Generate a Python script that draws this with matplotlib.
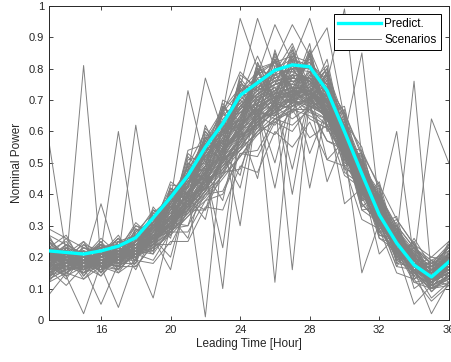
import matplotlib
matplotlib.use("Agg")
import matplotlib.pyplot as plt
import numpy as np

plt.rcParams['font.family'] = ['Liberation Sans', 'DejaVu Sans']

hours = np.arange(13, 37)

predict = [0.22, 0.215, 0.21, 0.22, 0.235, 0.262, 0.325, 0.39, 0.46, 0.55, 0.625, 0.715,
           0.755, 0.795, 0.812, 0.806, 0.73, 0.60, 0.465, 0.335, 0.245, 0.175, 0.137, 0.185]

# scenario values, one row per scenario (hours 13..36)
scenarios = [
    [.20, .18, .17, .19, .20, .22, .25, .30, .36, .42, .50, .57, .63, .68, .71, .72, .68, .58, .46, .35, .26, .19, .14, .17],
    [.17, .16, .18, .18, .19, .21, .24, .28, .33, .38, .45, .52, .59, .64, .66, .70, .64, .55, .43, .33, .24, .17, .13, .16],
    [.23, .21, .20, .21, .22, .24, .28, .33, .40, .46, .54, .61, .67, .72, .74, .73, .69, .60, .48, .37, .28, .20, .16, .19],
    [.14, .17, .15, .18, .16, .22, .21, .29, .30, .40, .41, .53, .52, .63, .60, .68, .57, .54, .37, .31, .19, .16, .09, .14],
    [.19, .20, .18, .16, .20, .23, .26, .31, .35, .43, .50, .58, .65, .62, .70, .73, .67, .56, .44, .33, .24, .19, .15, .18],
    [.22, .17, .21, .19, .17, .21, .25, .29, .37, .41, .51, .54, .60, .68, .64, .68, .66, .55, .46, .36, .27, .17, .14, .21],
    [.16, .19, .15, .21, .20, .20, .24, .28, .34, .39, .46, .57, .62, .66, .71, .64, .61, .52, .41, .31, .22, .15, .11, .14],
    [.20, .22, .19, .18, .21, .22, .27, .32, .38, .45, .53, .60, .66, .70, .70, .72, .70, .60, .47, .37, .25, .20, .16, .17],
    [.18, .14, .17, .20, .19, .24, .26, .30, .36, .44, .48, .56, .67, .64, .67, .67, .62, .55, .42, .34, .24, .18, .13, .20],
    [.23, .20, .22, .17, .22, .21, .25, .31, .35, .41, .51, .61, .62, .70, .73, .69, .65, .58, .45, .32, .26, .21, .17, .16],
    [.16, .17, .21, .18, .17, .17, .24, .24, .35, .35, .47, .48, .62, .59, .67, .58, .62, .46, .42, .28, .22, .12, .10, .11],
    [.21, .23, .18, .22, .21, .25, .29, .35, .42, .49, .57, .64, .70, .73, .78, .77, .72, .62, .50, .39, .29, .22, .18, .23],
    [.19, .17, .20, .15, .20, .22, .26, .29, .37, .42, .49, .54, .64, .66, .69, .73, .66, .54, .43, .35, .23, .17, .12, .15],
    [.17, .21, .16, .19, .18, .23, .24, .31, .34, .41, .52, .59, .61, .67, .71, .66, .64, .57, .44, .33, .27, .19, .15, .19],
    [.20, .16, .19, .21, .22, .20, .26, .28, .38, .45, .47, .57, .65, .69, .67, .71, .69, .57, .43, .36, .25, .16, .13, .17],
    [.25, .19, .17, .18, .19, .22, .28, .34, .40, .47, .55, .58, .63, .68, .73, .68, .65, .56, .46, .34, .22, .18, .14, .16],
    [.13, .16, .17, .17, .16, .21, .19, .28, .28, .38, .40, .53, .54, .64, .62, .67, .57, .55, .35, .31, .17, .16, .07, .12],
    [.18, .20, .21, .23, .24, .26, .30, .36, .43, .50, .58, .65, .71, .75, .77, .76, .71, .62, .49, .40, .30, .23, .19, .22],
    [.21, .18, .16, .20, .21, .21, .25, .30, .36, .42, .51, .55, .62, .66, .69, .70, .66, .55, .44, .33, .25, .19, .14, .18],
    [.19, .19, .20, .17, .19, .23, .26, .31, .37, .44, .49, .58, .63, .67, .70, .68, .67, .57, .44, .35, .24, .18, .13, .17],
    [.27, .24, .21, .23, .25, .27, .31, .38, .45, .52, .60, .67, .73, .77, .80, .80, .75, .66, .53, .43, .32, .24, .20, .25],
    [.12, .15, .13, .17, .15, .19, .18, .25, .25, .36, .35, .49, .47, .60, .55, .63, .51, .49, .32, .29, .15, .13, .06, .11],
    [.23, .19, .20, .24, .22, .25, .28, .36, .41, .46, .55, .59, .65, .71, .71, .75, .71, .61, .49, .38, .29, .21, .17, .21],
    [.16, .17, .19, .17, .20, .21, .23, .28, .34, .41, .47, .54, .60, .65, .68, .70, .64, .53, .42, .32, .22, .16, .12, .15],
    [.20, .22, .17, .19, .19, .24, .27, .32, .38, .44, .53, .61, .68, .71, .71, .69, .68, .58, .44, .34, .23, .17, .15, .20],
    [.18, .15, .19, .22, .21, .22, .25, .29, .35, .45, .51, .55, .63, .69, .73, .73, .67, .56, .47, .36, .26, .19, .14, .16],
    [.29, .26, .23, .21, .24, .24, .29, .35, .39, .47, .53, .61, .64, .68, .68, .72, .69, .60, .49, .39, .30, .23, .18, .24],
    [.14, .16, .17, .16, .19, .20, .23, .27, .33, .40, .46, .52, .60, .63, .67, .65, .62, .53, .41, .31, .23, .15, .11, .14],
    [.21, .19, .22, .18, .20, .23, .24, .33, .38, .43, .50, .58, .64, .66, .73, .72, .66, .55, .45, .33, .24, .20, .16, .18],
    [.19, .21, .18, .20, .23, .21, .26, .30, .37, .44, .49, .56, .61, .69, .70, .68, .65, .57, .46, .35, .25, .18, .13, .19],
    [.17, .18, .21, .19, .18, .24, .25, .31, .39, .42, .52, .57, .66, .65, .71, .74, .68, .56, .43, .32, .24, .17, .12, .16],
    [.22, .20, .17, .21, .22, .22, .27, .32, .36, .45, .50, .59, .62, .70, .72, .70, .69, .59, .45, .36, .27, .19, .15, .17],
    [.15, .17, .16, .18, .17, .21, .22, .28, .35, .40, .48, .55, .59, .64, .68, .71, .64, .53, .42, .32, .22, .15, .10, .13],
    [.20, .18, .19, .19, .21, .23, .25, .33, .40, .46, .53, .62, .67, .71, .74, .74, .70, .60, .48, .37, .26, .20, .16, .21],
    [.18, .21, .20, .17, .19, .22, .24, .29, .36, .42, .48, .56, .63, .67, .70, .67, .64, .54, .43, .33, .23, .17, .13, .15],
    [.23, .17, .19, .21, .20, .25, .26, .31, .37, .43, .51, .57, .65, .67, .72, .72, .67, .58, .46, .34, .25, .19, .14, .18],
    [.20, .18, .19, .21, .20, .23, .27, .32, .38, .45, .52, .42, .66, .70, .48, .72, .66, .57, .45, .35, .25, .18, .14, .17],
    [.19, .20, .18, .19, .22, .24, .26, .31, .39, .32, .55, .61, .45, .71, .73, .70, .44, .58, .44, .34, .26, .19, .15, .18],
    [.21, .19, .20, .20, .21, .22, .28, .33, .26, .46, .54, .60, .67, .50, .72, .53, .67, .56, .46, .36, .24, .17, .13, .16],
    [.18, .17, .19, .18, .19, .23, .26, .20, .40, .47, .38, .62, .68, .71, .40, .71, .65, .55, .44, .21, .27, .20, .16, .19],
    [.20, .21, .17, .20, .18, .22, .25, .30, .37, .44, .53, .46, .69, .72, .74, .42, .68, .58, .45, .34, .25, .18, .14, .17],
    [.22, .18, .20, .19, .21, .24, .27, .31, .38, .35, .52, .60, .66, .42, .70, .73, .51, .57, .35, .36, .26, .19, .15, .18],
    [.20, .24, .18, .21, .26, .22, .35, .32, .50, .47, .68, .62, .82, .70, .86, .72, .80, .55, .52, .30, .30, .15, .19, .14],
    [.17, .20, .22, .18, .20, .29, .26, .42, .39, .58, .53, .75, .68, .85, .72, .86, .65, .66, .40, .42, .22, .24, .12, .20],
    [.22, .17, .21, .24, .19, .25, .33, .30, .47, .45, .66, .60, .79, .69, .83, .70, .78, .52, .50, .31, .29, .17, .17, .15],
    [.19, .22, .16, .20, .24, .21, .29, .39, .36, .55, .51, .73, .65, .83, .70, .84, .62, .64, .38, .40, .21, .23, .11, .21],
    [.24, .15, .22, .17, .25, .21, .34, .31, .50, .44, .68, .61, .80, .68, .84, .70, .78, .51, .53, .29, .31, .14, .19, .13],
    [.14, .22, .16, .24, .18, .29, .25, .41, .38, .60, .53, .74, .66, .83, .71, .85, .63, .67, .39, .43, .21, .25, .11, .22],
    [.21, .18, .25, .15, .22, .19, .36, .29, .46, .57, .50, .72, .64, .78, .86, .68, .79, .49, .51, .38, .20, .24, .12, .16],
    [.17, .24, .14, .21, .27, .18, .31, .42, .35, .49, .66, .58, .79, .70, .73, .88, .60, .65, .41, .30, .33, .13, .18, .21],
    [.26, .19, .18, .25, .16, .27, .23, .38, .49, .41, .62, .70, .63, .86, .69, .78, .75, .53, .48, .39, .22, .20, .10, .17],
    [.19, .13, .21, .18, .23, .30, .27, .33, .43, .61, .55, .65, .77, .67, .80, .72, .83, .57, .36, .41, .28, .15, .16, .24],
    [.12, .20, .19, .14, .20, .22, .32, .27, .41, .47, .58, .77, .70, .74, .66, .81, .68, .61, .50, .27, .25, .22, .13, .11],
    [.23, .27, .17, .22, .19, .25, .29, .44, .40, .53, .69, .60, .75, .82, .74, .67, .72, .47, .43, .37, .18, .17, .20, .19],
    [.18, .16, .23, .20, .26, .17, .24, .35, .52, .46, .57, .71, .84, .72, .81, .76, .64, .63, .55, .33, .29, .10, .14, .20],
    [.25, .21, .13, .19, .17, .28, .34, .30, .39, .56, .63, .66, .69, .79, .88, .74, .80, .56, .38, .44, .24, .21, .09, .15],
    [.15, .18, .20, .26, .21, .20, .28, .40, .47, .42, .61, .75, .73, .65, .78, .83, .70, .50, .47, .32, .17, .26, .17, .23],
    [.22, .25, .18, .16, .24, .26, .22, .37, .45, .58, .52, .63, .80, .77, .70, .79, .66, .68, .44, .36, .27, .16, .15, .14],
    [.20, .14, .24, .22, .15, .23, .33, .26, .48, .50, .64, .69, .62, .81, .76, .71, .77, .54, .52, .28, .30, .19, .11, .20],
    [.16, .23, .15, .19, .22, .31, .26, .39, .36, .54, .59, .73, .76, .69, .83, .80, .62, .59, .40, .40, .19, .23, .18, .17],
    [.27, .17, .20, .23, .19, .19, .30, .34, .44, .45, .67, .58, .71, .84, .72, .86, .73, .52, .49, .34, .26, .12, .13, .25],
    [.13, .21, .22, .15, .25, .24, .21, .43, .42, .59, .56, .76, .68, .73, .81, .69, .79, .64, .37, .31, .23, .20, .16, .12],
    [.21, .19, .17, .20, .18, .27, .35, .31, .53, .48, .60, .64, .81, .76, .68, .77, .69, .55, .54, .42, .20, .18, .10, .18],
    [.19, .24, .21, .17, .23, .16, .27, .36, .37, .55, .65, .70, .66, .80, .79, .82, .65, .62, .42, .29, .32, .24, .15, .21],
    [.24, .16, .19, .24, .20, .22, .31, .29, .46, .43, .55, .78, .74, .71, .85, .73, .76, .48, .46, .38, .21, .14, .19, .16],
    [.15, .20, .24, .19, .17, .29, .24, .41, .40, .57, .62, .61, .79, .78, .75, .84, .71, .60, .39, .35, .27, .21, .12, .19],
    [.23, .22, .14, .21, .26, .20, .33, .33, .51, .52, .58, .72, .71, .66, .82, .75, .81, .58, .51, .26, .24, .17, .17, .22],
    [.18, .15, .20, .25, .19, .25, .29, .38, .41, .47, .70, .67, .78, .82, .70, .78, .67, .51, .45, .40, .19, .23, .14, .13],
    [.20, .26, .18, .16, .22, .21, .26, .35, .49, .60, .54, .74, .64, .75, .87, .70, .74, .65, .41, .33, .29, .13, .16, .20],
    [.14, .19, .23, .22, .16, .28, .32, .28, .43, .51, .63, .59, .82, .70, .77, .81, .61, .53, .53, .37, .22, .20, .11, .24],
    [.25, .17, .16, .18, .24, .23, .22, .42, .38, .44, .60, .76, .69, .85, .73, .76, .78, .56, .37, .31, .30, .18, .18, .15],
    [.17, .23, .21, .23, .18, .18, .35, .32, .54, .56, .57, .68, .75, .72, .84, .68, .70, .62, .49, .41, .18, .25, .13, .19],
    [.22, .18, .17, .14, .21, .30, .28, .37, .44, .49, .68, .63, .77, .79, .69, .85, .64, .49, .43, .27, .26, .15, .15, .21],
    [.19, .21, .25, .20, .25, .21, .30, .40, .39, .62, .51, .71, .67, .68, .80, .73, .80, .60, .48, .39, .23, .21, .10, .14],
    [.13, .16, .19, .24, .17, .26, .25, .30, .47, .45, .66, .79, .73, .83, .74, .79, .69, .54, .40, .34, .28, .16, .17, .23],
    [.26, .20, .22, .17, .23, .19, .34, .39, .42, .58, .59, .64, .80, .71, .78, .71, .75, .66, .52, .30, .20, .22, .12, .17],
    [.57, .21, .19, .20, .22, .24, .30, .37, .45, .53, .61, .68, .73, .76, .78, .77, .70, .58, .45, .35, .26, .19, .15, .18],
    [.19, .18, .81, .19, .21, .24, .29, .35, .43, .51, .59, .66, .71, .74, .76, .75, .69, .57, .44, .34, .25, .18, .14, .17],
    [.21, .19, .20, .22, .60, .25, .30, .36, .44, .52, .60, .67, .72, .75, .77, .76, .70, .58, .45, .35, .26, .19, .15, .18],
    [.20, .20, .18, .21, .20, .62, .28, .36, .43, .52, .60, .66, .72, .75, .76, .77, .69, .57, .45, .34, .25, .18, .14, .17],
    [.18, .20, .21, .19, .22, .25, .31, .38, .73, .50, .61, .68, .74, .77, .79, .76, .69, .57, .46, .35, .25, .18, .14, .17],
    [.22, .19, .20, .21, .23, .26, .32, .40, .47, .77, .60, .70, .75, .78, .80, .79, .72, .60, .47, .36, .27, .20, .16, .19],
    [.21, .20, .19, .22, .21, .24, .30, .37, .46, .56, .66, .96, .80, .82, .84, .82, .75, .62, .48, .37, .27, .20, .16, .19],
    [.19, .21, .20, .18, .22, .26, .31, .39, .47, .58, .67, .74, .96, .80, .83, .81, .74, .61, .47, .36, .26, .19, .15, .18],
    [.20, .18, .22, .21, .20, .25, .30, .38, .45, .54, .63, .72, .78, .94, .82, .96, .77, .63, .49, .37, .27, .20, .16, .19],
    [.22, .21, .19, .20, .24, .27, .33, .40, .48, .57, .66, .73, .79, .82, .94, .84, .93, .64, .50, .38, .28, .21, .17, .20],
    [.20, .19, .21, .22, .21, .25, .31, .37, .45, .53, .62, .69, .74, .78, .80, .82, .76, .99, .52, .38, .27, .20, .16, .19],
    [.21, .20, .18, .21, .22, .24, .29, .36, .44, .52, .60, .67, .72, .75, .77, .76, .70, .59, .85, .36, .60, .19, .15, .18],
    [.19, .22, .20, .19, .21, .25, .30, .37, .45, .53, .61, .68, .73, .76, .78, .77, .71, .58, .46, .35, .26, .76, .14, .18],
    [.20, .19, .21, .20, .22, .24, .30, .36, .44, .52, .60, .67, .72, .76, .77, .76, .69, .57, .44, .34, .25, .19, .64, .50],
    [.17, .14, .02, .18, .19, .22, .27, .33, .41, .48, .10, .62, .68, .71, .73, .72, .66, .54, .42, .32, .23, .16, .12, .15],
    [.16, .19, .17, .05, .18, .21, .26, .32, .40, .01, .55, .63, .69, .72, .74, .73, .66, .53, .41, .31, .22, .16, .11, .14],
    [.18, .16, .19, .17, .04, .20, .25, .31, .39, .47, .56, .64, .69, .12, .72, .73, .65, .52, .40, .30, .21, .15, .10, .13],
    [.17, .18, .16, .19, .18, .20, .07, .30, .38, .46, .54, .62, .67, .70, .16, .71, .64, .51, .39, .29, .20, .14, .10, .12],
    [.19, .17, .18, .16, .19, .22, .26, .16, .41, .49, .57, .30, .69, .72, .74, .73, .67, .37, .42, .32, .23, .17, .12, .15],
    [.16, .11, .17, .18, .20, .21, .27, .33, .40, .48, .56, .63, .68, .71, .73, .72, .65, .54, .15, .31, .22, .05, .11, .13],
    [.08, .15, .18, .37, .19, .22, .27, .33, .41, .49, .57, .64, .70, .73, .75, .74, .67, .55, .43, .26, .22, .16, .02, .12],
    [.18, .17, .15, .17, .19, .21, .25, .31, .30, .47, .23, .62, .68, .71, .73, .72, .66, .53, .41, .31, .22, .15, .11, .14],
]

fig = plt.figure(figsize=(4.52, 3.62), dpi=100)
ax = fig.add_axes([0.108, 0.116, 0.885, 0.868])

for i, row in enumerate(scenarios):
    ax.plot(hours, row, color=(0.5, 0.5, 0.5), lw=0.7,
            label="Scenarios" if i == 0 else None, zorder=2)
ax.plot(hours, predict, color="cyan", lw=2.4, label="Predict.", zorder=3)

ax.set_xlim(13, 36)
ax.set_ylim(0, 1)
ax.set_xticks([16, 20, 24, 28, 32, 36])
ax.set_yticks(np.arange(0, 1.01, 0.1))
ax.set_yticklabels(["0", "0.1", "0.2", "0.3", "0.4", "0.5", "0.6", "0.7", "0.8", "0.9", "1"])
ax.tick_params(direction="in", top=True, right=True, labelsize=8, colors=(0.15, 0.15, 0.15),
               length=3, width=0.6)
for s in ax.spines.values():
    s.set_color((0.15, 0.15, 0.15))
    s.set_linewidth(0.7)

ax.set_xlabel("Leading Time [Hour]", fontsize=8.5, color=(0.15, 0.15, 0.15), labelpad=2)
ax.set_ylabel("Nominal Power", fontsize=8.5, color=(0.15, 0.15, 0.15), labelpad=4)

h, l = ax.get_legend_handles_labels()
leg = ax.legend(h[::-1], l[::-1], loc="upper right", fontsize=8.5, fancybox=False,
                edgecolor="black", framealpha=1, handlelength=3.6, borderpad=0.35,
                labelspacing=0.3, handletextpad=0.3, borderaxespad=0.7)
leg.get_frame().set_linewidth(0.7)

fig.savefig("out.png", dpi=100)
